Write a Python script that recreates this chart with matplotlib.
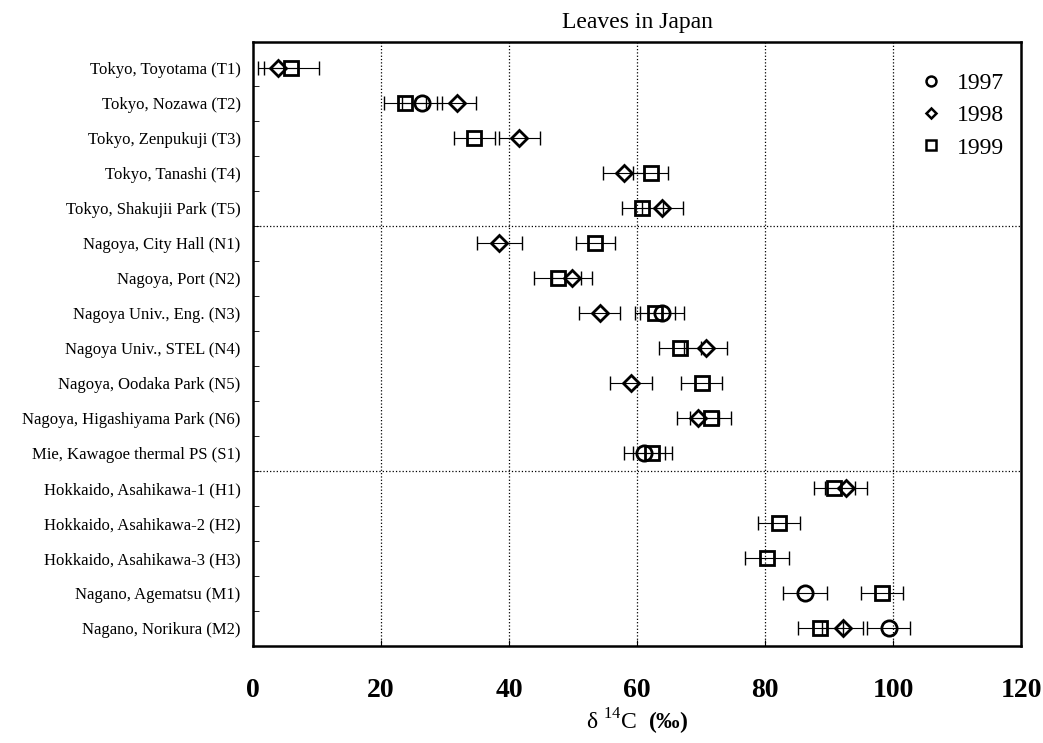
import numpy as np
import matplotlib
matplotlib.use("Agg")
import matplotlib.pyplot as plt

plt.rcParams['font.family'] = ['Liberation Serif', 'DejaVu Serif']
plt.rcParams['mathtext.fontset'] = 'custom'
plt.rcParams['mathtext.rm'] = 'Liberation Serif'
plt.rcParams['mathtext.bf'] = 'Liberation Serif:bold'

nan = np.nan

sites = ["Tokyo, Toyotama (T1)", "Tokyo, Nozawa (T2)", "Tokyo, Zenpukuji (T3)",
         "Tokyo, Tanashi (T4)", "Tokyo, Shakujii Park (T5)",
         "Nagoya, City Hall (N1)", "Nagoya, Port (N2)", "Nagoya Univ., Eng. (N3)",
         "Nagoya Univ., STEL (N4)", "Nagoya, Oodaka Park (N5)",
         "Nagoya, Higashiyama Park (N6)", "Mie, Kawagoe thermal PS (S1)",
         "Hokkaido, Asahikawa-1 (H1)", "Hokkaido, Asahikawa-2 (H2)",
         "Hokkaido, Asahikawa-3 (H3)", "Nagano, Agematsu (M1)", "Nagano, Norikura (M2)"]

# delta 14C values (permil) and errors, per site
v1997 = [nan, 26.4, nan, nan, nan, nan, nan, 63.9, nan, nan, nan, 61.1, nan, nan, nan, 86.2, 99.3]
e1997 = [nan, 3.2, nan, nan, nan, nan, nan, 3.5, nan, nan, nan, 3.2, nan, nan, nan, 3.4, 3.3]
v1998 = [3.9, 31.8, 41.6, 57.9, 63.9, 38.5, 49.8, 54.2, 70.7, 59.0, 69.5, nan, 92.7, nan, nan, nan, 92.1]
e1998 = [3.2, 3.1, 3.2, 3.2, 3.2, 3.5, 3.1, 3.2, 3.3, 3.3, 3.3, nan, 3.3, nan, nan, nan, 3.2]
v1999 = [6.0, 23.8, 34.6, 62.1, 60.8, 53.5, 47.6, 62.8, 66.7, 70.1, 71.5, 62.4, 90.8, 82.2, 80.3, 98.3, 88.6]
e1999 = [4.3, 3.3, 3.2, 2.8, 3.2, 3.1, 3.7, 3.1, 3.3, 3.2, 3.2, 3.0, 3.2, 3.3, 3.4, 3.3, 3.5]

series = [("1997", v1997, e1997, "o", 11),
          ("1998", v1998, e1998, "D", 8),
          ("1999", v1999, e1999, "s", 10)]

fig = plt.figure(figsize=(10.43, 7.43), dpi=100)
ax = fig.add_axes([0.2426, 0.1306, 0.7364, 0.8129])

y = np.arange(len(sites))
for name, v, e, m, ms in series:
    v = np.array(v)
    e = np.array(e)
    ok = ~np.isnan(v)
    ax.errorbar(v[ok], y[ok], xerr=e[ok], fmt='none', ecolor='black',
                elinewidth=0.8, capsize=5, capthick=1.0, zorder=3)
    ax.plot(v[ok], y[ok], linestyle='none', marker=m, markersize=ms,
            markerfacecolor='none', markeredgecolor='black',
            markeredgewidth=2.0, zorder=4)
    # legend handle
    ax.plot([], [], linestyle='none', marker=m, markersize=ms * 0.65,
            markerfacecolor='none', markeredgecolor='black',
            markeredgewidth=1.8, label=name)

ax.set_xlim(0, 120)
ax.set_ylim(16.5, -0.75)

ax.set_xticks(np.arange(0, 121, 20))
ax.set_xticklabels([str(t) for t in range(0, 121, 20)], fontsize=20, fontweight='bold')
ax.tick_params(axis='x', direction='in', length=4, pad=23)

ax.set_yticks(y)
ax.set_yticklabels(sites, fontsize=12)
ax.tick_params(axis='y', which='major', length=0, pad=9)
ax.set_yticks(np.arange(0.5, len(sites) - 1, 1), minor=True)
ax.tick_params(axis='y', which='minor', direction='in', length=4)

for gx in [20, 40, 60, 80, 100]:
    ax.axvline(gx, color='black', linestyle=':', linewidth=0.9, zorder=1)
for gy in [4.5, 11.5]:
    ax.axhline(gy, color='black', linestyle=':', linewidth=0.9, zorder=1)

for s in ax.spines.values():
    s.set_linewidth(1.8)

ax.set_title("Leaves in Japan", fontsize=17, pad=10)
ax.set_xlabel(r"δ $^{14}$C  $\mathbf{(‰)}$", fontsize=17, labelpad=3)

ax.legend(loc='upper right', bbox_to_anchor=(1.018, 1.0), frameon=False,
          fontsize=17, handletextpad=0.5, labelspacing=0.45,
          borderaxespad=0.9, handlelength=1.2)

fig.savefig("out.png", dpi=100)
